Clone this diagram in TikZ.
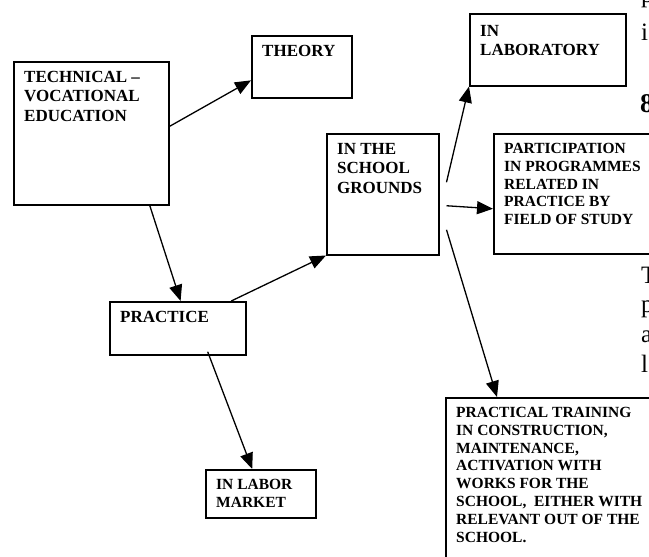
\documentclass[tikz,border=0pt]{standalone}
\usepackage{fontspec}
\setmainfont{Liberation Serif}
\usepackage{tikz}
\usetikzlibrary{arrows.meta}

\newcommand{\tvbig}{\fontsize{17}{19.5}\selectfont\bfseries}
\newcommand{\tvsmall}{\fontsize{15.5}{17.8}\selectfont\bfseries}

\tikzset{
    box/.style={draw, line width=1.5pt, anchor=north west, inner sep=0pt},
    lbl/.style={anchor=north west, align=left, inner sep=0pt, xshift=11pt, yshift=-10pt},
    arr/.style={-{Triangle[length=16pt,width=13pt]}, line width=1.3pt},
    frag/.style={anchor=base west, inner sep=0pt, font=\fontsize{25}{30}\selectfont},
}

\begin{document}
\begin{tikzpicture}[x=1pt, y=-1pt]
    \useasboundingbox (0,0) rectangle (649,557);
    \clip (0,0) rectangle (649,557);

    % Boxes
    \node[box, minimum width=155pt, minimum height=143pt,
          label={[lbl, font=\tvbig]north west:TECHNICAL --\\VOCATIONAL\\EDUCATION}] (tech) at (13,61) {};
    \node[box, minimum width=100pt, minimum height=62pt,
          label={[lbl, font=\tvbig]north west:THEORY}] (theory) at (251,35) {};
    \node[box, minimum width=136pt, minimum height=53pt,
          label={[lbl, font=\tvbig]north west:PRACTICE}] (practice) at (109,301) {};
    \node[box, minimum width=110pt, minimum height=48pt,
          label={[lbl, font=\tvsmall]north west:IN LABOR\\MARKET}] (labor) at (205,469) {};
    \node[box, minimum width=112pt, minimum height=121pt,
          label={[lbl, font=\tvbig]north west:IN THE\\SCHOOL\\GROUNDS}] (school) at (326,133) {};
    \node[box, minimum width=156pt, minimum height=72pt,
          label={[lbl, font=\tvbig, yshift=-2pt]north west:IN\\LABORATORY}] (lab) at (469,13) {};
    \node[box, minimum width=170pt, minimum height=120pt,
          label={[lbl, font=\tvsmall]north west:PARTICIPATION\\IN PROGRAMMES\\RELATED IN\\PRACTICE BY\\FIELD OF STUDY}] (part) at (493,133) {};
    \node[box, minimum width=215pt, minimum height=180pt,
          label={[lbl, font=\tvsmall]north west:PRACTICAL TRAINING\\IN CONSTRUCTION,\\MAINTENANCE,\\ACTIVATION WITH\\WORKS FOR THE\\SCHOOL,~ EITHER WITH\\RELEVANT OUT OF THE\\SCHOOL.}] (train) at (445,397) {};

    % Arrows
    \draw[arr] (tech.5) -- (theory.195);
    \draw[arr] (tech.-51) -- (practice.84);
    \draw[arr] (practice.27) -- (school.south west);
    \draw[arr, shorten <=-4pt] (practice.-41) -- (labor.109);
    \draw[arr] ([xshift=7pt,yshift=12pt]school.east) -- (lab.south west);
    \draw[arr] ([xshift=7pt,yshift=-11.5pt]school.east) -- ([yshift=-15pt]part.west);
    \draw[arr] ([xshift=7pt,yshift=-35.5pt]school.east) -- ([xshift=52pt]train.north west);

    % Page text cut off at the right margin
    \node[frag] (ta) at (641,2) {p};
    \node[frag] (tb) at (641,40) {i};
    \node[frag, font=\fontsize{27}{30}\selectfont\bfseries] (tc) at (640,112) {8};
    \node[frag] (td) at (641,283) {T};
    \node[frag] (te) at (641,312) {p};
    \node[frag] (tf) at (641,342) {a};
    \node[frag] (tg) at (641,372) {l};
\end{tikzpicture}
\end{document}
